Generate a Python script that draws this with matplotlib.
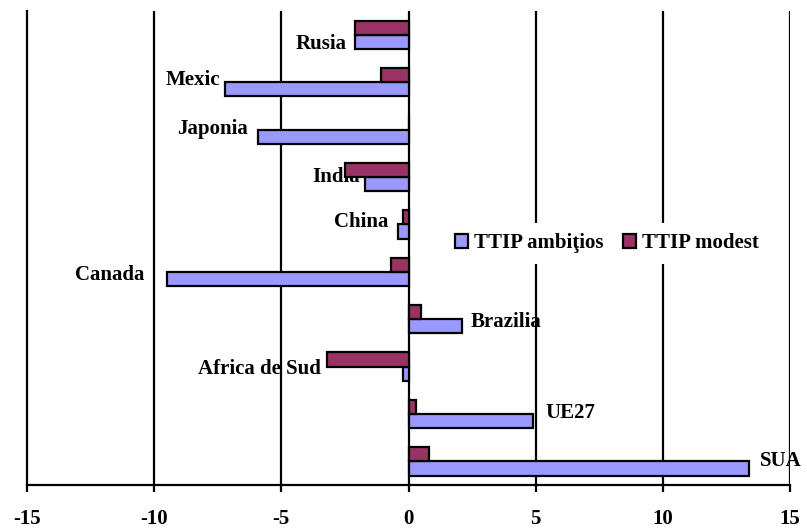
import numpy as np
import matplotlib.pyplot as plt

plt.rcParams['font.family'] = ['Liberation Serif', 'DejaVu Serif']
plt.rcParams['font.weight'] = 'bold'
plt.rcParams['axes.unicode_minus'] = False

# TTIP impact per country (%)
countries = ['Rusia', 'Mexic', 'Japonia', 'India', 'China', 'Canada',
             'Brazilia', 'Africa de Sud', 'UE27', 'SUA']
ambitios = [-2.1, -7.2, -5.9, -1.7, -0.4, -9.5, 2.1, -0.2, 4.9, 13.4]
modest = [-2.1, -1.1, 0.0, -2.5, -0.2, -0.7, 0.5, -3.2, 0.3, 0.8]

# where each country name sits next to its bars
label_x = [-2.45, -7.4, -6.3, -1.9, -0.8, -10.4, 2.45, -3.45, 5.4, 13.8]
label_y = [0.19, 0.96, 1.99, 3.01, 3.96, 5.06, 6.06, 7.06, 7.98, 9.0]
label_ha = ['right'] * 6 + ['left', 'right', 'left', 'left']

fig = plt.figure(figsize=(8.07, 5.28), dpi=100)
ax = fig.add_axes([0.0335, 0.0814, 0.9455, 0.8976])

y = np.arange(len(countries))
h = 0.3
lw = 1.6
ax.barh(y + h / 2, ambitios, height=h, color='#9999FF', edgecolor='black',
        linewidth=lw, zorder=3, label='TTIP ambiţios')
ax.barh(y - h / 2, modest, height=h, color='#993366', edgecolor='black',
        linewidth=lw, zorder=3, label='TTIP modest')

for x0, y0, ha, name in zip(label_x, label_y, label_ha, countries):
    ax.text(x0, y0, name, ha=ha, va='center', fontsize=15, fontweight='bold',
            zorder=0.5)

ax.set_xlim(-15, 15)
ax.set_ylim(9.5, -0.5)
ax.set_xticks(np.arange(-15, 16, 5))
for xv in [-10, -5, 0, 5, 10, 15]:
    ax.axvline(xv, color='black', linewidth=lw, zorder=1)

for s in ['top', 'right']:
    ax.spines[s].set_visible(False)
for s in ['left', 'bottom']:
    ax.spines[s].set_linewidth(lw)
ax.set_yticks([])
ax.tick_params(axis='x', direction='out', length=5, width=lw, pad=12,
               labelsize=15)

leg = ax.legend(loc='center', bbox_to_anchor=(0.76, 0.51), ncol=2,
                frameon=True, fancybox=False, edgecolor='none',
                facecolor='white', framealpha=1, fontsize=15,
                handlelength=0.65, handleheight=0.65, handletextpad=0.3,
                columnspacing=0.9, borderpad=0.5)
leg.set_zorder(5)

fig.savefig('out.png', dpi=100)
